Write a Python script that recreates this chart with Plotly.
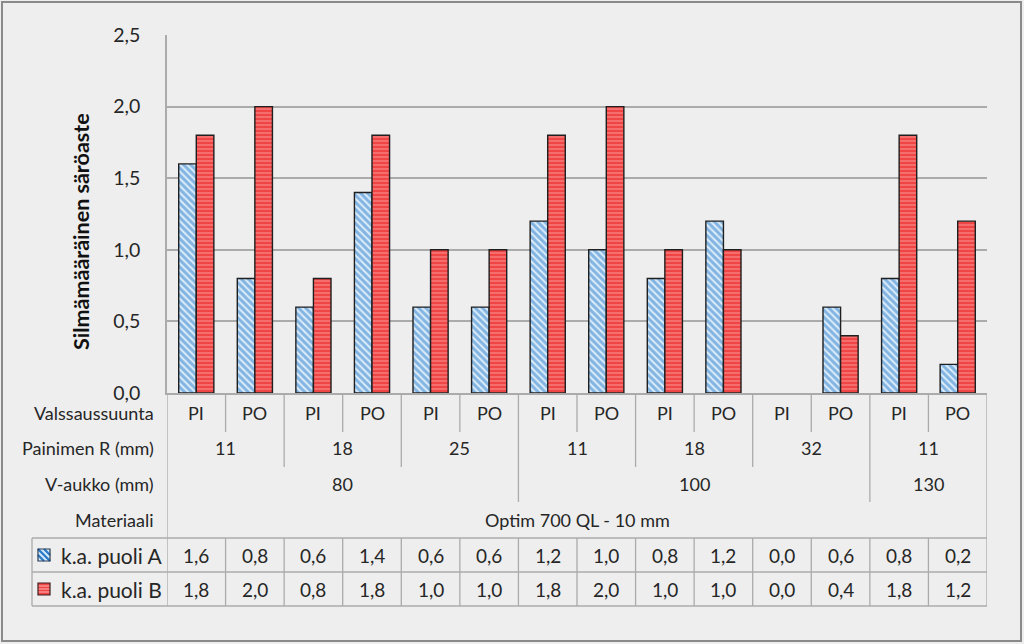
import plotly.graph_objects as go

# ---------------- data ----------------
valssaussuunta = ["PI", "PO", "PI", "PO", "PI", "PO", "PI", "PO", "PI", "PO", "PI", "PO", "PI", "PO"]
painimen_r = ["11", "11", "18", "18", "25", "25", "11", "11", "18", "18", "32", "32", "11", "11"]
v_aukko = ["80", "80", "80", "80", "80", "80", "100", "100", "100", "100", "100", "100", "130", "130"]
materiaali = ["Optim 700 QL - 10 mm"] * 14
puoli_a = [1.6, 0.8, 0.6, 1.4, 0.6, 0.6, 1.2, 1.0, 0.8, 1.2, 0.0, 0.6, 0.8, 0.2]
puoli_b = [1.8, 2.0, 0.8, 1.8, 1.0, 1.0, 1.8, 2.0, 1.0, 1.0, 0.0, 0.4, 1.8, 1.2]
series_names = ["k.a. puoli A", "k.a. puoli B"]
row_headers = ["Valssaussuunta", "Painimen R (mm)", "V-aukko (mm)", "Materiaali"]
y_title = "Silmämääräinen säröaste"

# ---------------- layout geometry (pixels) ----------------
W, H = 1024, 644
PL, PR, PT, PB = 167, 987, 35, 393
FONT = "Lato"
FS = 18
TXT = "#262626"
LINE = "#ababab"


def pxx(p):
    return (p - PL) / (PR - PL)


def pyy(p):
    return (PB - p) / (PB - PT)


n = len(valssaussuunta)
xs = list(range(n))
bar_a = [v if v != 0 else None for v in puoli_a]
bar_b = [v if v != 0 else None for v in puoli_b]

fig = go.Figure()
fig.add_trace(go.Bar(
    x=xs, y=bar_a, name=series_names[0],
    marker=dict(color="#cfe5f8",
                line=dict(color="#1f1f1f", width=1.4),
                pattern=dict(shape="\\", bgcolor="#dcedfb", fgcolor="#2a7cc8",
                             size=5, solidity=0.6)),
    showlegend=False,
))
fig.add_trace(go.Bar(
    x=xs, y=bar_b, name=series_names[1],
    marker=dict(color="#f24c4c",
                line=dict(color="#1f1f1f", width=1.4),
                pattern=dict(shape="-", bgcolor="#f04545", fgcolor="#ffb8b8",
                             size=4, solidity=0.35)),
    showlegend=False,
))

shapes = []
annotations = []


def vline(xd, y0p, y1p):
    shapes.append(dict(type="line", xref="x", yref="paper", x0=xd, x1=xd,
                       y0=pyy(y0p), y1=pyy(y1p), line=dict(color=LINE, width=1.3)))


def group_spans(labels):
    spans = []
    start = 0
    for i in range(1, n + 1):
        if i == n or labels[i] != labels[start] or (labels is painimen_r and v_aukko[i] != v_aukko[start]):
            spans.append((labels[start], start, i - 1))
            start = i
    return spans


row_y = [413, 448, 484, 520]
row_sep_bottom = [432, 467, 502, 538]
rows = [valssaussuunta, painimen_r, v_aukko, materiaali]

boundary_depth = {}
for level, labels in enumerate(rows[:3]):
    for lab, s, e in group_spans(labels):
        if e < n - 1:
            boundary_depth[e] = max(boundary_depth.get(e, -1), level)
for b, lvl in boundary_depth.items():
    vline(b + 0.5, PB, row_sep_bottom[lvl])

vline(-0.5, PB, 606)
vline(n - 0.5, PB, 606)

for level, labels in enumerate(rows):
    for lab, s, e in group_spans(labels):
        annotations.append(dict(x=(s + e) / 2, y=pyy(row_y[level]), xref="x", yref="paper",
                                 text=lab, showarrow=False, font=dict(family=FONT, size=FS, color=TXT),
                                 xanchor="center", yanchor="middle"))
    annotations.append(dict(x=pxx(156), y=pyy(row_y[level]), xref="paper", yref="paper",
                             text=row_headers[level], showarrow=False,
                             font=dict(family=FONT, size=FS, color=TXT),
                             xanchor="right", yanchor="middle"))

tab_top, tab_mid, tab_bot = 538, 572, 606
for yy in (tab_top, tab_mid, tab_bot):
    shapes.append(dict(type="line", xref="paper", yref="paper", x0=pxx(32), x1=1,
                       y0=pyy(yy), y1=pyy(yy), line=dict(color=LINE, width=1.3)))
shapes.append(dict(type="line", xref="paper", yref="paper", x0=pxx(32), x1=pxx(32),
                   y0=pyy(tab_top), y1=pyy(tab_bot), line=dict(color=LINE, width=1.3)))
for i in range(n - 1):
    vline(i + 0.5, tab_top, tab_bot)

for vals, yc in ((puoli_a, 555), (puoli_b, 589)):
    for i, v in enumerate(vals):
        annotations.append(dict(x=i, y=pyy(yc), xref="x", yref="paper",
                                 text=f"{v:.1f}".replace(".", ","), showarrow=False,
                                 font=dict(family=FONT, size=19, color=TXT),
                                 xanchor="center", yanchor="middle"))

for name, yc in zip(series_names, (555, 589)):
    annotations.append(dict(x=pxx(164), y=pyy(yc), xref="paper", yref="paper",
                             text=name, showarrow=False,
                             font=dict(family=FONT, size=21, color=TXT),
                             xanchor="right", yanchor="middle"))

# swatch A (diagonal stripes)
ya0, ya1 = 549, 561
shapes.append(dict(type="rect", xref="paper", yref="paper", x0=pxx(38), x1=pxx(50),
                   y0=pyy(ya1), y1=pyy(ya0), fillcolor="#d9ecfb", line=dict(width=0)))
for (x0, y0, x1, y1) in ((38, ya0, 50, ya1), (38, ya0 + 6, 44, ya1), (44, ya0, 50, ya0 + 6)):
    shapes.append(dict(type="line", xref="paper", yref="paper", x0=pxx(x0), x1=pxx(x1),
                       y0=pyy(y0), y1=pyy(y1), line=dict(color="#2a7cc8", width=2.4)))
shapes.append(dict(type="rect", xref="paper", yref="paper", x0=pxx(38), x1=pxx(50),
                   y0=pyy(ya1), y1=pyy(ya0), line=dict(color="#2a3a55", width=1.2)))
# swatch B (horizontal stripes)
yb0, yb1 = 583, 595
shapes.append(dict(type="rect", xref="paper", yref="paper", x0=pxx(38), x1=pxx(50),
                   y0=pyy(yb1), y1=pyy(yb0), fillcolor="#f04545", line=dict(width=0)))
for yy in (586, 589, 592):
    shapes.append(dict(type="line", xref="paper", yref="paper", x0=pxx(38), x1=pxx(50),
                       y0=pyy(yy), y1=pyy(yy), line=dict(color="#ffb8b8", width=1)))
shapes.append(dict(type="rect", xref="paper", yref="paper", x0=pxx(38), x1=pxx(50),
                   y0=pyy(yb1), y1=pyy(yb0), line=dict(color="#3a1f1f", width=1.2)))

annotations.append(dict(x=pxx(81), y=pyy(232), xref="paper", yref="paper", text=y_title,
                         textangle=-90, showarrow=False,
                         font=dict(family=FONT, size=21.5, color="#111111", weight="bold"),
                         xanchor="center", yanchor="middle"))

shapes.append(dict(type="rect", xref="paper", yref="paper", x0=pxx(2), x1=pxx(1021),
                   y0=pyy(641), y1=pyy(2), line=dict(color="#8a8a8a", width=2), layer="below"))

fig.update_layout(
    width=W, height=H, autosize=False,
    margin=dict(l=PL, r=W - PR, t=PT, b=H - PB),
    paper_bgcolor="#eeeeee", plot_bgcolor="#eeeeee",
    barmode="group", bargap=0.4, bargroupgap=0.0,
    separators=", ",
    font=dict(family=FONT, size=FS, color=TXT),
    xaxis=dict(range=[-0.5, n - 0.5], showticklabels=False, showgrid=False, zeroline=False,
               showline=True, linecolor=LINE, linewidth=1.5, ticks="", fixedrange=True),
    yaxis=dict(range=[0, 2.5], dtick=0.5, tickformat=".1f", showgrid=True, gridcolor=LINE,
               gridwidth=1.5, zeroline=False, showline=True, linecolor=LINE, linewidth=1.5,
               ticks="", ticklabelstandoff=21, tickfont=dict(family=FONT, size=19.5, color=TXT)),
    shapes=shapes, annotations=annotations,
)

fig.write_html("out.html", config={"displayModeBar": False},
               post_script="document.body.style.margin='0';")
